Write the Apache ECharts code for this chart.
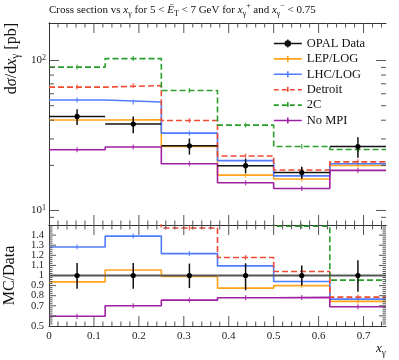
<!DOCTYPE html>
<html>
<head>
<meta charset="utf-8">
<script src="https://cdn.jsdelivr.net/npm/echarts@6/dist/echarts.min.js"></script>
<style>
  html, body { margin: 0; background: #fff; }
  #chart { width: 399px; height: 360px; }
</style>
</head>
<body>
<div id="chart"></div>
<script>
// bin edges in x_gamma
const binEdges = [0, 0.125, 0.25, 0.375, 0.5, 0.625, 0.75]

// cross section [pb]
const opal   = [42.4, 37.7, 27.0, 19.9, 17.9, 26.7]
const opalHi = [47.4, 42.4, 30.2, 22.0, 19.6, 30.8]
const opalLo = [37.1, 32.8, 23.6, 17.7, 16.3, 22.5]
const lepLog  = [40.1, 40.3, 26.7, 17.2, 16.2, 20.0]
const lhcLog  = [54.5, 52.9, 32.8, 21.5, 17.0, 20.5]
const detroit = [66.5, 68.1, 39.8, 23.1, 18.6, 21.1]
const twoC    = [90.4, 103, 63.1, 37.1, 26.7, 25.5]
const noMpi   = [25.4, 26.5, 20.5, 15.3, 14.0, 18.5]

// MC / Data
const dataRatioHi = [1.124, 1.124, 1.118, 1.12, 1.098, 1.15]
const dataRatioLo = [0.868, 0.868, 0.875, 0.855, 0.90, 0.84]
const lepLogRatio  = [0.937, 1.055, 0.99, 0.875, 0.90, 0.744]
const lhcLogRatio  = [1.282, 1.39, 1.217, 1.095, 0.94, 0.766]
const detroitRatio = [1.57, 1.80, 1.47, 1.178, 1.04, 0.786]
const twoCRatio    = [2.13, 2.73, 2.34, 1.86, 1.487, 0.954]
const noMpiRatio   = [0.596, 0.70, 0.756, 0.78, 0.783, 0.69]

// tick positions (drawn inward on all four sides of each panel)
const xMajor = [0.1, 0.2, 0.3, 0.4, 0.5, 0.6, 0.7]
const logMajor = [10, 100]
const logMinor = [9, 20, 30, 40, 50, 60, 70, 80, 90]
const ratioMajor = [0.6, 0.7, 0.8, 0.9, 1, 1.1, 1.2, 1.3, 1.4]

const xMinor = []
for (let i = 1; i < 38; i++) if (i % 5) xMinor.push(+(i * 0.02).toFixed(2))
const ratioMinor = []
for (let i = 26; i < 75; i++) if (i % 5) ratioMinor.push(+(i * 0.02).toFixed(2))

const FONT = 'Liberation Serif'
const TICK = '#555'
const FRAME = '#333'
const centers = binEdges.slice(0, -1).map((e, i) => (e + binEdges[i + 1]) / 2)

const mc = [
  { name: 'LEP/LOG', color: '#ffa31a', dash: 'solid', main: lepLog, ratio: lepLogRatio },
  { name: 'LHC/LOG', color: '#4f7cff', dash: 'solid', main: lhcLog, ratio: lhcLogRatio },
  { name: 'Detroit', color: '#f04a32', dash: [6, 3], main: detroit, ratio: detroitRatio },
  { name: '2C', color: '#2a9e2a', dash: [6, 3], main: twoC, ratio: twoCRatio },
  { name: 'No MPI', color: '#a020a4', dash: 'solid', main: noMpi, ratio: noMpiRatio },
]

function richSet(size) {
  const base = { fontFamily: FONT, fontWeight: 'normal', color: '#111' }
  return {
    n: Object.assign({ fontSize: size, lineHeight: size + 5 }, base),
    i: Object.assign({ fontSize: size, lineHeight: size + 5, fontStyle: 'italic' }, base),
    s: Object.assign({ fontSize: size * 0.72, lineHeight: size * 0.9, verticalAlign: 'bottom' }, base),
    p: Object.assign({ fontSize: size * 0.72, lineHeight: size * 0.9, verticalAlign: 'top' }, base),
  }
}

// axes: the four axis lines of each panel make its frame
function frameAxis(grid, position, type, min, max, extra) {
  return Object.assign({
    type, gridIndex: grid, position, min, max,
    axisLine: { show: true, lineStyle: { color: FRAME, width: 1 } },
    splitLine: { show: false },
    axisTick: { show: false },
    axisLabel: { show: false },
  }, extra || {})
}

const isPow10 = v => Math.abs(Math.log10(v) - Math.round(Math.log10(v))) < 1e-6

const xAxes = [
  frameAxis(0, 'bottom', 'value', 0, 0.75),
  frameAxis(0, 'top', 'value', 0, 0.75),
  frameAxis(1, 'bottom', 'value', 0, 0.75, {
    interval: 0.1,
    axisLabel: { show: true, margin: 5, fontFamily: FONT, fontSize: 11, color: '#222', showMinLabel: true, showMaxLabel: false },
    name: '{i|x}{s|γ}', nameLocation: 'end', nameGap: 0,
    nameTextStyle: { align: 'right', verticalAlign: 'top', padding: [14, 0, 0, 0], rich: richSet(13) },
  }),
  frameAxis(1, 'top', 'value', 0, 0.75),
]
const yAxes = [
  frameAxis(0, 'left', 'log', 8, 178, {
    axisLabel: {
      show: true, margin: 3, showMinLabel: true, showMaxLabel: true,
      formatter: v => isPow10(v) ? '{b|10}{e|' + Math.round(Math.log10(v)) + '}' : '',
      rich: {
        b: { fontFamily: FONT, fontSize: 11, color: '#222', lineHeight: 14 },
        e: { fontFamily: FONT, fontSize: 8, color: '#222', lineHeight: 10, verticalAlign: 'top' },
      },
    },
    name: 'd{i|σ}/d{i|x}{s|γ} [pb]', nameLocation: 'end', nameGap: 0, nameRotate: 90,
    nameTextStyle: { align: 'right', verticalAlign: 'bottom', padding: [0, 0, 27, 0], rich: richSet(16), fontSize: 16, fontFamily: FONT, color: '#111' },
  }),
  frameAxis(0, 'right', 'log', 8, 178),
  frameAxis(1, 'left', 'value', 0.5, 1.5, {
    interval: 0.1,
    axisLabel: { show: true, margin: 5, fontFamily: FONT, fontSize: 10.5, color: '#222', showMinLabel: true, showMaxLabel: false, hideOverlap: false },
    name: 'MC/Data', nameLocation: 'middle', nameGap: 31, nameRotate: 90,
    nameTextStyle: { fontFamily: FONT, fontSize: 16, color: '#111' },
  }),
  frameAxis(1, 'right', 'value', 0.5, 1.5),
]

// inward tick marks, placed through the panel's own scales
function tickRows(xs, xLen, ys, yLen, yMin) {
  return xs.map(v => [v, yMin, xLen, 0]).concat(ys.map(v => [0, v, yLen, 1]))
}
function tickSeries(ax, rows) {
  return {
    type: 'custom', xAxisIndex: ax, yAxisIndex: ax, silent: true, z: 5, clip: false,
    data: rows, encode: { x: 0, y: 1 },
    renderItem(params, api) {
      const cs = params.coordSys
      const len = api.value(2)
      const p = api.coord([api.value(0), api.value(1)])
      const style = { stroke: TICK, lineWidth: 1 }
      if (api.value(3) === 0) {
        const b = cs.y + cs.height
        return {
          type: 'group', children: [
            { type: 'line', shape: { x1: p[0], y1: b, x2: p[0], y2: b - len }, style },
            { type: 'line', shape: { x1: p[0], y1: cs.y, x2: p[0], y2: cs.y + len }, style },
          ],
        }
      }
      const r = cs.x + cs.width
      return {
        type: 'group', children: [
          { type: 'line', shape: { x1: cs.x, y1: p[1], x2: cs.x + len, y2: p[1] }, style },
          { type: 'line', shape: { x1: r, y1: p[1], x2: r - len, y2: p[1] }, style },
        ],
      }
    },
  }
}

function histPoints(vals) {
  return binEdges.map((e, i) => [e, vals[Math.min(i, vals.length - 1)]])
}

function dataSeries(ax, vals, lo, hi, lineColor, lineWidth, name) {
  return {
    type: 'custom', name, xAxisIndex: ax, yAxisIndex: ax, z: 10,
    data: vals.map((v, i) => [binEdges[i], binEdges[i + 1], centers[i], v, lo[i], hi[i]]),
    encode: { x: [0, 1, 2], y: [3, 4, 5] },
    renderItem(params, api) {
      const a = api.coord([api.value(0), api.value(3)])
      const b = api.coord([api.value(1), api.value(3)])
      const c = api.coord([api.value(2), api.value(3)])
      const l = api.coord([api.value(2), api.value(4)])
      const h = api.coord([api.value(2), api.value(5)])
      return {
        type: 'group', children: [
          { type: 'line', shape: { x1: a[0], y1: a[1], x2: b[0], y2: b[1] }, style: { stroke: lineColor, lineWidth } },
          { type: 'line', shape: { x1: l[0], y1: l[1], x2: h[0], y2: h[1] }, style: { stroke: '#111', lineWidth: 1.5 } },
          { type: 'circle', shape: { cx: c[0], cy: c[1], r: 2.6 }, style: { fill: '#000' } },
        ],
      }
    },
  }
}

const series = [
  tickSeries(0, tickRows(xMajor, 10, logMajor, 10, 8)),
  tickSeries(0, tickRows(xMinor, 4.5, logMinor, 5, 8)),
  tickSeries(2, tickRows(xMajor, 10, ratioMajor, 7, 0.5)),
  tickSeries(2, tickRows(xMinor, 4.5, ratioMinor, 3.5, 0.5)),
]
mc.forEach(m => {
  ;[[0, m.main], [2, m.ratio]].forEach(([ax, vals]) => {
    series.push({
      type: 'line', name: m.name, xAxisIndex: ax, yAxisIndex: ax, step: 'end',
      data: histPoints(vals), symbol: 'none', clip: true,
      lineStyle: { color: m.color, width: 1.6, type: m.dash },
      itemStyle: { color: m.color },
    })
    series.push({
      type: 'scatter', name: m.name + ' err', xAxisIndex: ax, yAxisIndex: ax,
      data: centers.map((c, i) => [c, vals[i]]), symbol: 'rect', symbolSize: [1.3, 5], clip: true,
      itemStyle: { color: m.color }, silent: true,
    })
  })
})
series.push(dataSeries(0, opal, opalLo, opalHi, '#111', 1.5, 'OPAL Data'))
series.push(dataSeries(2, opal.map(() => 1), dataRatioLo, dataRatioHi, '#555', 2.2, 'OPAL Data ratio'))

const iconMC = 'path://M0,0M0,5L28,5M14,2L14,8M28,10'
const iconData = 'path://M0,0M0,5L28,5M14,1L14,9M16.6,5A2.6,2.6,0,1,1,11.4,5A2.6,2.6,0,1,1,16.6,5ZM28,10'

const legendData = [{
  name: 'OPAL Data', icon: iconData,
  itemStyle: { color: '#000', borderColor: '#111', borderWidth: 1.4 },
}].concat(mc.map(m => ({
  name: m.name, icon: iconMC,
  itemStyle: { color: 'transparent', borderColor: m.color, borderWidth: 1.6, borderType: m.dash === 'solid' ? 'solid' : [5, 3] },
})))

const gridBase = { left: 49, width: 337, show: false, outerBoundsMode: 'none', containLabel: false }

const chart = echarts.init(document.getElementById('chart'), null, { renderer: 'canvas' })
chart.setOption({
  animation: false,
  backgroundColor: '#fff',
  title: {
    text: '{n|Cross section vs }{i|x}{s|γ}{n| for 5 < }{i|Ē}{s|T}{n| < 7 GeV for }{i|x}{s|γ}{p|+}{n| and }{i|x}{s|γ}{p|−}{n| < 0.75}',
    left: 49, top: 2, padding: 0,
    textStyle: { fontWeight: 'normal', rich: richSet(11) },
  },
  legend: {
    orient: 'vertical', left: 273, top: 37, padding: 0, itemWidth: 28, itemHeight: 10, itemGap: 2.4,
    selectedMode: false,
    textStyle: { fontFamily: FONT, fontSize: 12.5, color: '#111', lineHeight: 12 },
    data: legendData,
  },
  grid: [
    Object.assign({ top: 23, height: 202 }, gridBase),
    Object.assign({ top: 225, height: 101 }, gridBase),
  ],
  xAxis: xAxes,
  yAxis: yAxes,
  series,
})
</script>
</body>
</html>
